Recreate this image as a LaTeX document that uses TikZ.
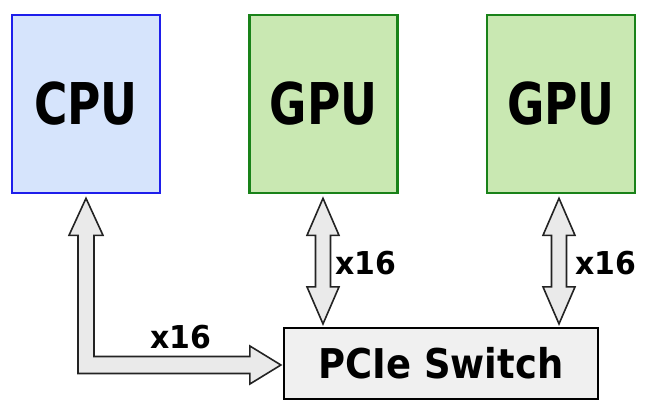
\documentclass[tikz,border=0pt]{standalone}
\usepackage{fontspec}
\setmainfont{DejaVu Sans}
\usetikzlibrary{calc}
\definecolor{cpufill}{RGB}{214,228,252}
\definecolor{cpuline}{RGB}{30,30,235}
\definecolor{gpufill}{RGB}{201,232,178}
\definecolor{gpuline}{RGB}{25,130,25}
\definecolor{swfill}{RGB}{240,240,240}
\definecolor{arrfill}{RGB}{234,234,234}
\definecolor{arrline}{RGB}{35,35,35}
\tikzset{
  chip/.style={draw, line width=2.6pt, minimum width=148pt, minimum height=178pt, inner sep=0pt,
    font=\fontsize{57.6}{60}\selectfont\bfseries},
  cpubox/.style={chip, fill=cpufill, draw=cpuline},
  gpubox/.style={chip, fill=gpufill, draw=gpuline},
  swbox/.style={draw=black, fill=swfill, line width=2.2pt, minimum width=314pt, minimum height=71pt, inner sep=0pt,
    font=\fontsize{41}{44}\selectfont\bfseries},
  lanelbl/.style={inner sep=0pt, font=\fontsize{31.5}{34}\selectfont\bfseries},
  fat/.style={draw=arrline, fill=arrfill, line width=1.6pt, line join=miter}
}
\begin{document}
\begin{tikzpicture}[x=1pt,y=-1pt]
\useasboundingbox (0,0) rectangle (648,401);
\node[cpubox] (cpu) at (86,104) {\scalebox{0.79}[1]{CPU}};
\node[gpubox] (gpu1) at (323.5,104) {\scalebox{0.79}[1]{GPU}};
\node[gpubox] (gpu2) at (561,104) {\scalebox{0.79}[1]{GPU}};
\node[swbox] (sw) at (441,363.5) {\raisebox{-3pt}{\scalebox{0.9}[1]{PCIe Switch}}};

\coordinate (c1) at ([yshift=-4pt]cpu.south);
\coordinate (c2) at ([xshift=-2pt,yshift=-1.5pt]sw.west);
\coordinate (g1t) at ([xshift=-0.5pt,yshift=-4pt]gpu1.south);
\coordinate (g1b) at ([xshift=-0.5pt,yshift=3pt]gpu1.south |- sw.north);
\coordinate (g2t) at ([xshift=-2pt,yshift=-4pt]gpu2.south);
\coordinate (g2b) at ([xshift=-2pt,yshift=3pt]gpu2.south |- sw.north);

% CPU <-> switch (L-shaped fat arrow)
\draw[fat] let \p1=(c1), \p2=(c2) in
  (\x1,\y1) -- (\x1+17pt,\y1-37pt) -- (\x1+8pt,\y1-37pt) -- (\x1+8pt,\y2+8.5pt)
  -- (\x2-31pt,\y2+8.5pt) -- (\x2-31pt,\y2+19pt) -- (\x2,\y2) -- (\x2-31pt,\y2-19pt)
  -- (\x2-31pt,\y2-8.5pt) -- (\x1-8pt,\y2-8.5pt) -- (\x1-8pt,\y1-37pt) -- (\x1-17pt,\y1-37pt) -- cycle;

% GPU <-> switch (vertical fat double arrows)
\foreach \t/\b in {g1t/g1b, g2t/g2b}{
\draw[fat] let \p1=(\t), \p2=(\b) in
  (\x1,\y1) -- (\x1+16pt,\y1-37pt) -- (\x1+7.5pt,\y1-37pt) -- (\x1+7.5pt,\y2+37pt)
  -- (\x1+16pt,\y2+37pt) -- (\x1,\y2) -- (\x1-16pt,\y2+37pt) -- (\x1-7.5pt,\y2+37pt)
  -- (\x1-7.5pt,\y1-37pt) -- (\x1-16pt,\y1-37pt) -- cycle;
}

\node[lanelbl] (l0) at (181,337) {\scalebox{0.95}[1]{x16}};
\node[lanelbl] (l1) at (366,263.5) {\scalebox{0.95}[1]{x16}};
\node[lanelbl] (l2) at (606,263.5) {\scalebox{0.95}[1]{x16}};
\end{tikzpicture}
\end{document}
